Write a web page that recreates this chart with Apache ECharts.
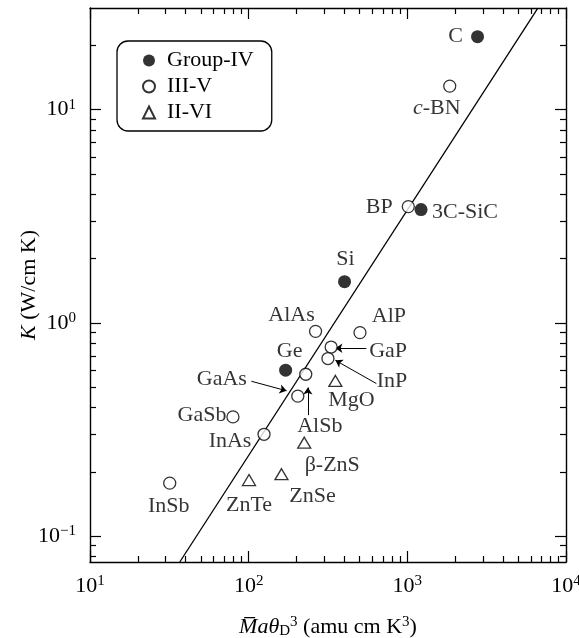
<!DOCTYPE html>
<html><head><meta charset="utf-8">
<script src="https://cdn.jsdelivr.net/npm/echarts@6/dist/echarts.min.js"></script>
<style>html,body{margin:0;padding:0;background:#fff}#c{width:579px;height:638px}</style>
</head><body><div id="c"></div>
<script>
// ---- data ----
const groupIVNames = ['C', '3C-SiC', 'Si', 'Ge'];
const groupIVX = [2770, 1220, 402, 171];
const groupIVY = [22.0, 3.40, 1.56, 0.60];

const iiiVNames = ['c-BN', 'BP', 'AlP', 'AlAs', 'GaP', 'InP', 'AlSb', 'GaAs', 'InAs', 'GaSb', 'InSb'];
const iiiVX = [1850, 1014, 503, 264, 331, 316, 229, 204, 125, 79.6, 31.8];
const iiiVY = [12.9, 3.51, 0.90, 0.912, 0.77, 0.68, 0.574, 0.453, 0.30, 0.362, 0.177];

const iiViNames = ['MgO', 'β-ZnS', 'ZnSe', 'ZnTe'];
const iiViX = [352, 224, 161, 100.5];
const iiViY = [0.534, 0.274, 0.195, 0.183];

const fitX = [36.8, 6600];
const fitY = [0.0755, 29.7];

const arrowFromX = [104, 552, 638, 236];
const arrowFromY = [0.532, 0.760, 0.519, 0.369];
const arrowToX = [173.4, 352, 352, 236];
const arrowToY = [0.480, 0.760, 0.667, 0.497];

const xRange = [10, 10000];
const yRange = [0.0755, 30];
const xMajor = [10, 100, 1000, 10000];
const yMajor = [0.1, 1, 10];
const xMinor = [20,30,40,50,60,70,80,90,200,300,400,500,600,700,800,900,2000,3000,4000,5000,6000,7000,8000,9000];
const yMinor = [0.08,0.09,0.2,0.3,0.4,0.5,0.6,0.7,0.8,0.9,2,3,4,5,6,7,8,9,20];

// ---- styles / label placement ----
const FONT = 'Liberation Serif';
const FS = 22;
const labelOffsets = {
  'C': [-22, 0], '3C-SiC': [44, 3], 'Si': [1, -22], 'Ge': [4, -19],
  'c-BN': [-13, 22], 'BP': [-29, 1], 'AlP': [29, -16], 'AlAs': [-24, -16],
  'GaP': [57, 4], 'InP': [64, 23], 'AlSb': [14, 52], 'GaAs': [-76, -17],
  'InAs': [-34, 7], 'GaSb': [-31, -2], 'InSb': [-1, 23],
  'MgO': [16, 19], 'β-ZnS': [28, 23], 'ZnSe': [31, 22], 'ZnTe': [0, 25]
};
const richNames = { 'c-BN': '{i|c}-BN' };

const L = Math.log10;
function pts(names, xs, ys) {
  return names.map((n, i) => ({
    name: n,
    value: [L(xs[i]), L(ys[i])],
    label: { offset: labelOffsets[n] || [0, 0] }
  }));
}
const labelCfg = {
  show: true, position: 'inside', color: '#000', fontFamily: FONT, fontSize: FS,
  align: 'center', verticalAlign: 'middle',
  formatter: p => richNames[p.name] || p.name,
  rich: { i: { fontStyle: 'italic', fontFamily: FONT, fontSize: FS, color: '#000' } }
};
const openStyle = { color: '#fff', borderColor: '#000', borderWidth: 1.3 };

const tickRich = {
  b: { fontFamily: FONT, fontSize: FS, color: '#000', lineHeight: 24 },
  s: { fontFamily: FONT, fontSize: 15, color: '#000', lineHeight: 15, verticalAlign: 'top' }
};
function powFmt(v) {
  const e = Math.round(v);
  return '{b|10}{s|' + (e < 0 ? '\u2212' + (-e) : e) + '}';
}
const axisLineStyle = { color: '#000', width: 1.4 };

function xAx(pos, major, showLine, withLabel) {
  const ax = {
    type: 'value', position: pos, min: L(xRange[0]), max: L(xRange[1]),
    splitLine: { show: false },
    axisLine: { show: showLine, lineStyle: axisLineStyle, onZero: false },
    axisTick: { show: true, inside: true, length: major ? 11 : 6,
      lineStyle: { color: '#000', width: 1.2 },
      customValues: (major ? xMajor : xMinor).map(L) },
    axisLabel: { show: false }
  };
  if (withLabel) {
    ax.axisLabel = { show: true, customValues: xMajor.map(L), formatter: powFmt, rich: tickRich, margin: 12 };
    ax.name = '{mi|M\u0305a\u03B8}{sub|D}{sup|3}{n| (amu cm K}{sup|3}{n|)}';
    ax.nameLocation = 'middle';
    ax.nameGap = 53;
    ax.nameMoveOverlap = false;
    ax.nameTextStyle = {
      fontFamily: FONT, fontSize: FS, color: '#000',
      rich: {
        mi: { fontFamily: FONT, fontSize: FS, fontStyle: 'italic', color: '#000', lineHeight: 24 },
        n: { fontFamily: FONT, fontSize: FS, color: '#000', lineHeight: 24 },
        sub: { fontFamily: FONT, fontSize: 15, color: '#000', lineHeight: 15, verticalAlign: 'bottom' },
        sup: { fontFamily: FONT, fontSize: 15, color: '#000', lineHeight: 15, verticalAlign: 'top' }
      }
    };
  }
  return ax;
}
function yAx(pos, major, showLine, withLabel) {
  const ax = {
    type: 'value', position: pos, min: L(yRange[0]), max: L(yRange[1]),
    splitLine: { show: false },
    axisLine: { show: showLine, lineStyle: axisLineStyle, onZero: false },
    axisTick: { show: true, inside: true, length: major ? 11 : 6,
      lineStyle: { color: '#000', width: 1.2 },
      customValues: (major ? yMajor : yMinor).map(L) },
    axisLabel: { show: false }
  };
  if (withLabel) {
    ax.axisLabel = { show: true, customValues: yMajor.map(L), formatter: powFmt, rich: tickRich, margin: 14 };
    ax.name = '{i|K}{n| (W/cm K)}';
    ax.nameLocation = 'middle';
    ax.nameRotate = 90;
    ax.nameGap = 50;
    ax.nameMoveOverlap = false;
    ax.nameTextStyle = {
      fontFamily: FONT, fontSize: FS, color: '#000',
      rich: {
        i: { fontFamily: FONT, fontSize: FS, fontStyle: 'italic', color: '#000' },
        n: { fontFamily: FONT, fontSize: FS, color: '#000' }
      }
    };
  }
  return ax;
}

const chart = echarts.init(document.getElementById('c'), null, { renderer: 'canvas' });
chart.setOption({
  animation: false,
  backgroundColor: '#fff',
  grid: { left: 90, right: 13, top: 8, bottom: 76, containLabel: false, outerBoundsMode: 'none' },
  legend: {
    left: 117, top: 41, orient: 'vertical',
    padding: [8, 18, 7, 25], itemGap: 3, itemWidth: 12, itemHeight: 12,
    borderColor: '#000', borderWidth: 1.3, borderRadius: 11,
    textStyle: { fontFamily: FONT, fontSize: FS, color: '#000', padding: [0, 0, 0, 7], lineHeight: 23 },
    selectedMode: false,
    data: ['Group-IV', 'III-V', 'II-VI']
  },
  xAxis: [xAx('bottom', true, true, true), xAx('bottom', false, false, false), xAx('top', true, true, false), xAx('top', false, false, false)],
  yAxis: [yAx('left', true, true, true), yAx('left', false, false, false), yAx('right', true, true, false), yAx('right', false, false, false)],
  series: [
    { type: 'line', name: 'fit', data: fitX.map((x, i) => [L(x), L(fitY[i])]), showSymbol: false, symbol: 'none',
      lineStyle: { color: '#000', width: 1.3 }, clip: true, silent: true, z: 1 },
    { type: 'lines', coordinateSystem: 'cartesian2d', silent: true, z: 1,
      symbol: ['none', 'arrow'], symbolSize: 7,
      lineStyle: { color: '#000', width: 1, opacity: 1, curveness: 0 },
      data: arrowFromX.map((x, i) => ({ coords: [[L(x), L(arrowFromY[i])], [L(arrowToX[i]), L(arrowToY[i])]] })) },
    { type: 'scatter', name: 'Group-IV', symbol: 'circle', symbolSize: 13, itemStyle: { color: '#000' },
      data: pts(groupIVNames, groupIVX, groupIVY), label: labelCfg, silent: true, z: 3 },
    { type: 'scatter', name: 'III-V', symbol: 'circle', symbolSize: 12, itemStyle: openStyle,
      data: pts(iiiVNames, iiiVX, iiiVY), label: labelCfg, silent: true, z: 3 },
    { type: 'scatter', name: 'II-VI', symbol: 'triangle', symbolSize: [13, 11], itemStyle: openStyle,
      data: pts(iiViNames, iiViX, iiViY), label: labelCfg, silent: true, z: 3 }
  ]
});
</script></body></html>
